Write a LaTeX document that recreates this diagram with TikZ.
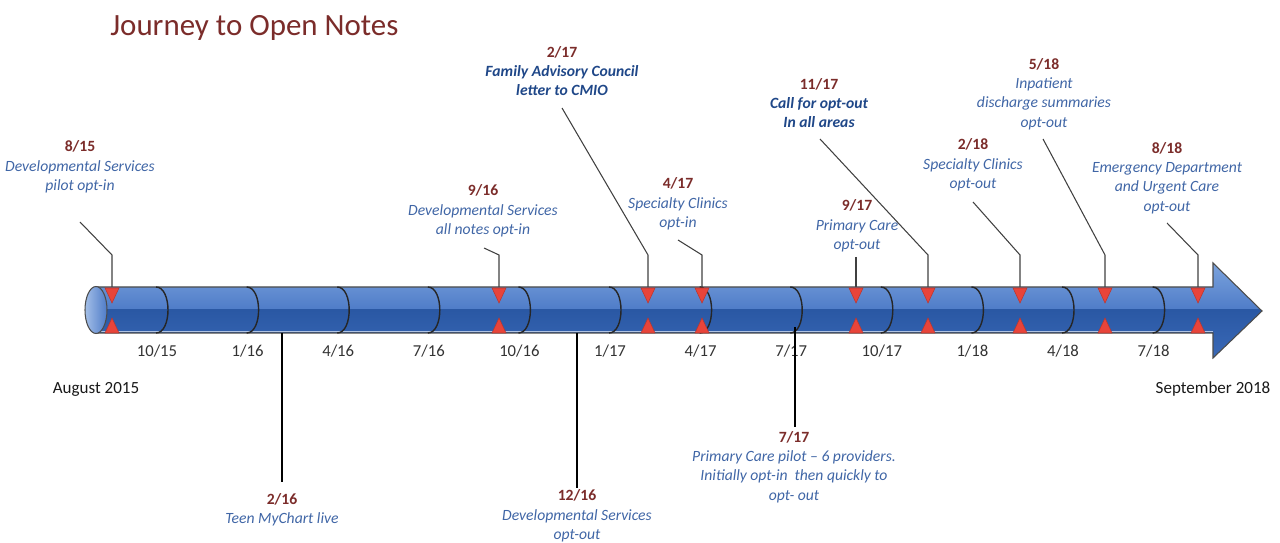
\documentclass[tikz,border=0pt]{standalone}
\usepackage{fontspec}
\setmainfont{Carlito}
\usepackage{xcolor}
\usepackage{tikz}
\usetikzlibrary{positioning,calc}

\definecolor{datered}{HTML}{7B2C2A}
\definecolor{noteblue}{HTML}{4066A6}
\definecolor{keyblue}{HTML}{1F4788}
\definecolor{tubelight}{HTML}{7CA3DD}
\definecolor{tubemid}{HTML}{4E7CC8}
\definecolor{tubedark}{HTML}{2A58A4}
\definecolor{tubelow}{HTML}{3A69B7}
\definecolor{markred}{HTML}{E8443A}

\newcommand{\evdate}[1]{\textcolor{datered}{\upshape\bfseries #1}}

\begin{document}
\begin{tikzpicture}[
    x=0.02cm, y=-0.02cm,
    event/.style={align=center, inner sep=0pt, text=noteblue, font=\fontsize{8.9}{11}\selectfont\itshape},
    keyevent/.style={event, text=keyblue, font=\fontsize{8.9}{11}\selectfont\bfseries\itshape},
    ticklabel/.style={inner sep=0pt, text=black!80, font=\fontsize{9.5}{11}\selectfont},
    endlabel/.style={inner sep=0pt, text=black!90, font=\fontsize{9.7}{11}\selectfont},
    leader/.style={draw=black!75, line width=0.6pt},
    drop/.style={draw=black, line width=0.9pt},
    ring/.style={draw=black!85, line width=0.8pt},
    marker/.style={fill=markred, draw=markred!80!black, line width=0.3pt}
]
    \useasboundingbox (0,0) rectangle (1280,543);

    % Title
    \node[anchor=west, inner sep=0pt, text=datered, font=\fontsize{17.6}{20}\selectfont] (title) at (110,28) {Journey to Open Notes};

    % Timeline arrow
    \begin{scope}
        \clip (96,287) -- (1213,287) -- (1213,263) -- (1262,311) -- (1213,358) -- (1213,333) -- (96,333) -- cycle;
        \shade[top color=tubelight, bottom color=tubemid] (90,263) rectangle (1270,310);
        \shade[top color=tubedark, bottom color=tubelow] (90,310) rectangle (1270,358);
        \draw[white!60!tubelow, line width=0.8pt] (96,331.5) -- (1213,331.5);
    \end{scope}
    \draw[black!70, line width=0.6pt] (96,287) -- (1213,287) -- (1213,263) -- (1262,311) -- (1213,358) -- (1213,333) -- (96,333);
    \shade[left color=tubelight!70!white, right color=tubemid, draw=black!70, line width=0.6pt] (96,310) ellipse [x radius=11, y radius=23.5];

    % Quarter rings and labels
    \foreach \lab [count=\i from 0] in {{10/15},{1/16},{4/16},{7/16},{10/16},{1/17},{4/17},{7/17},{10/17},{1/18},{4/18},{7/18}} {
        \pgfmathsetmacro{\rx}{168+90.6*\i}
        \draw[ring] (\rx-12,287) .. controls (\rx+4,287) and (\rx+4,333) .. (\rx-12,333);
        \node[ticklabel] (tick\i) at (\rx-11,351) {\lab};
    }

    % Start and end
    \node[endlabel] (start) at (96,389) {August 2015};
    \node[endlabel] (finish) at (1213,389) {September 2018};

    % Events above the arrow
    \node[event] (n815) at (80,167) {\evdate{8/15}\\ Developmental Services\\ pilot opt-in};
    \node[event] (n916) at (483,211) {\evdate{9/16}\\ Developmental Services\\ all notes opt-in};
    \node[keyevent] (n217) at (562,71) {\evdate{2/17}\\ Family Advisory Council\\ letter to CMIO};
    \node[event] (n417) at (678,204) {\evdate{4/17}\\ Specialty Clinics\\ opt-in};
    \node[event] (n917) at (857,226) {\evdate{9/17}\\ Primary Care\\ opt-out};
    \node[keyevent] (n1117) at (819,103) {\evdate{11/17}\\ Call for opt-out\\ In all areas};
    \node[event] (n218) at (973,165) {\evdate{2/18}\\ Specialty Clinics\\ opt-out};
    \node[event] (n518) at (1044,94) {\evdate{5/18}\\ Inpatient\\ discharge summaries\\ opt-out};
    \node[event] (n818) at (1167,178) {\evdate{8/18}\\ Emergency Department\\ and Urgent Care\\ opt-out};

    % Events below the arrow
    \node[event] (n216) at (282,510) {\evdate{2/16}\\ Teen MyChart live};
    \node[event] (n1216) at (577,516) {\evdate{12/16}\\ Developmental Services\\ opt-out};
    \node[event] (n717) at (794,467) {\evdate{7/17}\\ Primary Care pilot -- 6 providers.\\ Initially opt-in~ then quickly to\\ opt- out};

    % Leader coordinates
    \coordinate (a815) at (80,222);   \coordinate (k815) at (112,255);  \coordinate (t815) at (112,287);
    \coordinate (a916) at (484,248);  \coordinate (k916) at (499,255);  \coordinate (t916) at (499,287);
    \coordinate (a217) at (562,108);  \coordinate (k217) at (648,255);  \coordinate (t217) at (648,287);
    \coordinate (a417) at (678,240);  \coordinate (k417) at (702,255);  \coordinate (t417) at (702,287);
    \coordinate (a917) at (856,257);  \coordinate (t917) at (856,287);
    \coordinate (a1117) at (820,139); \coordinate (k1117) at (928,255); \coordinate (t1117) at (928,287);
    \coordinate (a218) at (973,202);  \coordinate (k218) at (1020,255); \coordinate (t218) at (1020,287);
    \coordinate (a518) at (1043,139); \coordinate (k518) at (1105,255); \coordinate (t518) at (1105,287);
    \coordinate (a818) at (1167,223); \coordinate (k818) at (1198,255); \coordinate (t818) at (1198,287);

    \coordinate (b216) at (282,333);  \coordinate (e216) at (282,482);
    \coordinate (b1216) at (577,333); \coordinate (e1216) at (577,488);
    \coordinate (b717) at (795,327);  \coordinate (e717) at (795,427);

    % Leader lines
    \draw[leader] (a815) -- (k815) -- (t815);
    \draw[leader] (a916) -- (k916) -- (t916);
    \draw[leader] (a217) -- (k217) -- (t217);
    \draw[leader] (a417) -- (k417) -- (t417);
    \draw[leader] (a917) -- (t917);
    \draw[leader] (a1117) -- (k1117) -- (t1117);
    \draw[leader] (a218) -- (k218) -- (t218);
    \draw[leader] (a518) -- (k518) -- (t518);
    \draw[leader] (a818) -- (k818) -- (t818);

    \draw[drop] (b216) -- (e216);
    \draw[drop] (b1216) -- (e1216);
    \draw[drop] (b717) -- (e717);

    % Markers
    \foreach \t in {t815,t916,t217,t417,t917,t1117,t218,t518,t818} {
        \path[marker] (\t) ++(-7,1) -- ++(14,0) -- ++(-7,15) -- cycle;
        \path[marker] (\t) ++(-7,46) -- ++(14,0) -- ++(-7,-15) -- cycle;
    }
\end{tikzpicture}
\end{document}
